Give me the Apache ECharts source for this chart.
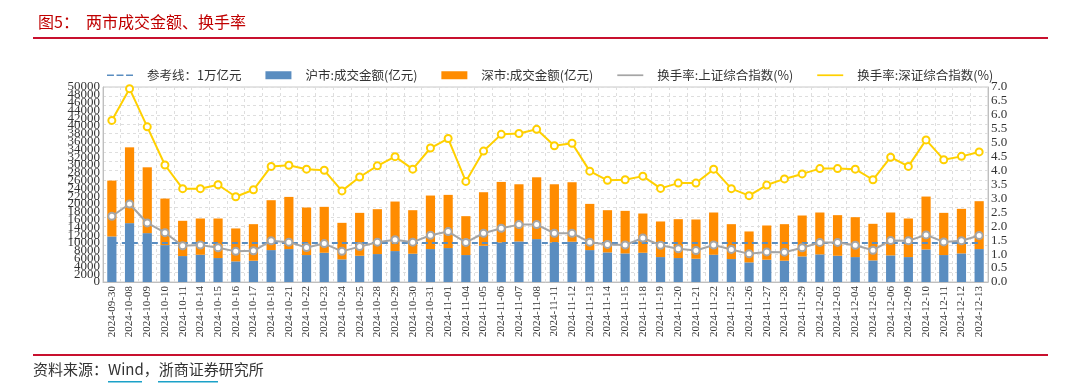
<!DOCTYPE html>
<html>
<head>
<meta charset="utf-8">
<script src="https://cdn.jsdelivr.net/npm/echarts@6/dist/echarts.min.js"></script>
<style>html,body{margin:0;padding:0;background:#fff;}#c{width:1080px;height:390px;}</style>
</head>
<body>
<div id="c"></div>
<script>
const dates = ['2024-09-30','2024-10-08','2024-10-09','2024-10-10','2024-10-11','2024-10-14','2024-10-15','2024-10-16','2024-10-17','2024-10-18','2024-10-21','2024-10-22','2024-10-23','2024-10-24','2024-10-25','2024-10-28','2024-10-29','2024-10-30','2024-10-31','2024-11-01','2024-11-04','2024-11-05','2024-11-06','2024-11-07','2024-11-08','2024-11-11','2024-11-12','2024-11-13','2024-11-14','2024-11-15','2024-11-18','2024-11-19','2024-11-20','2024-11-21','2024-11-22','2024-11-25','2024-11-26','2024-11-27','2024-11-28','2024-11-29','2024-12-02','2024-12-03','2024-12-04','2024-12-05','2024-12-06','2024-12-09','2024-12-10','2024-12-11','2024-12-12','2024-12-13'];
const shAmount = [11680,15090,12530,9460,6650,6990,6140,5290,5460,8180,8440,6910,7500,5800,6730,7160,7930,7250,8440,8700,6910,9290,10140,10400,11000,10140,10320,8180,7590,7330,7500,6390,6140,5970,6990,5880,5030,5710,5460,6560,7080,6730,6390,5540,6820,6390,8350,6910,7330,8440];
const szAmount = [14320,19440,16880,11940,9040,9290,10140,8440,9370,12790,13380,12190,11770,9370,11000,11510,12700,11160,13730,13640,9970,13730,15520,14660,15850,14920,15260,11850,10820,10910,10060,9130,9970,10060,10830,8950,7930,8780,9370,10490,10740,10410,10230,9380,11000,9890,13560,10820,11430,12280];
const refLine = [10000,10000,10000,10000,10000,10000,10000,10000,10000,10000,10000,10000,10000,10000,10000,10000,10000,10000,10000,10000,10000,10000,10000,10000,10000,10000,10000,10000,10000,10000,10000,10000,10000,10000,10000,10000,10000,10000,10000,10000,10000,10000,10000,10000,10000,10000,10000,10000,10000,10000];
const shTurnover = [2.36,2.80,2.12,1.77,1.30,1.33,1.23,1.10,1.12,1.48,1.43,1.24,1.38,1.10,1.27,1.43,1.52,1.43,1.68,1.81,1.42,1.75,1.93,2.06,2.06,1.75,1.75,1.43,1.35,1.33,1.58,1.32,1.19,1.13,1.33,1.17,1.01,1.08,1.07,1.23,1.42,1.42,1.32,1.14,1.49,1.48,1.69,1.44,1.48,1.67];
const szTurnover = [5.80,6.94,5.57,4.20,3.35,3.35,3.49,3.06,3.31,4.15,4.19,4.05,4.01,3.27,3.77,4.17,4.50,4.05,4.81,5.15,3.61,4.70,5.30,5.33,5.48,4.89,4.98,3.98,3.65,3.67,3.80,3.36,3.55,3.55,4.05,3.35,3.10,3.48,3.70,3.88,4.07,4.07,4.05,3.67,4.48,4.15,5.10,4.39,4.51,4.67];
const seriesNames = ['参考线：1万亿元','沪市:成交金额(亿元)','深市:成交金额(亿元)','换手率:上证综合指数(%)','换手率:深证综合指数(%)'];

const chart = echarts.init(document.getElementById('c'), null, {renderer:'canvas'});
const serif = '"Liberation Serif","DejaVu Serif",serif';
const cjk = '"Noto Sans CJK SC","Noto Sans",sans-serif';
const dashIcon = 'path://M0 0H8V2H0Z M11 0H19V2H11Z M22 0H30V2H22Z';
const lineIcon = 'path://M0 0H30V2H0Z';
const leftLabel = {fontSize:13, color:'#333', fontFamily:serif, margin:3, hideOverlap:false, formatter:v=>String(v)};
const option = {
  animation:false,
  backgroundColor:'#fff',
  title:{text:'图5：  两市成交金额、换手率', left:33, top:9, textStyle:{color:'#C00000', fontSize:16, fontWeight:'normal', fontFamily:cjk}},
  legend:{
    top:64, left:102, itemGap:24, itemWidth:26, itemHeight:8,
    textStyle:{fontSize:12.5, color:'#333', fontFamily:cjk, padding:[0,0,0,9]},
    data:[
      {name:seriesNames[0], icon:dashIcon},
      {name:seriesNames[1], icon:'rect'},
      {name:seriesNames[2], icon:'rect'},
      {name:seriesNames[3], icon:lineIcon},
      {name:seriesNames[4], icon:lineIcon}
    ]
  },
  grid:{left:103, right:92, top:87, bottom:108, show:true, borderColor:'#c8c8c8', borderWidth:1},
  xAxis:{
    type:'category', data:dates, boundaryGap:true,
    axisLine:{lineStyle:{color:'#bfbfbf'}}, axisTick:{show:false},
    axisLabel:{interval:0, rotate:90, fontSize:11, color:'#333', fontFamily:serif, margin:4},
    splitLine:{show:true, interval:0, lineStyle:{color:'#dedede', type:[3,3]}}
  },
  yAxis:[
    {type:'value', min:0, max:50000, interval:2000, position:'left',
     axisLine:{show:true, lineStyle:{color:'#bfbfbf'}}, axisTick:{show:false},
     axisLabel:Object.assign({}, leftLabel, {showMinLabel:false, showMaxLabel:false}),
     splitLine:{show:false}},
    {type:'value', min:0, max:7, interval:0.5, position:'right',
     axisLine:{show:true, lineStyle:{color:'#bfbfbf'}}, axisTick:{show:false},
     axisLabel:{fontSize:13, color:'#333', fontFamily:serif, margin:3, hideOverlap:false, showMinLabel:true, showMaxLabel:true, formatter:v=>v.toFixed(1)},
     splitLine:{show:false}},
    {type:'value', min:0, max:21, interval:1, show:true, position:'left',
     axisLine:{show:false}, axisTick:{show:false}, axisLabel:{show:false},
     splitLine:{show:true, lineStyle:{color:'#dedede', type:[3,3]}}},
    {type:'value', min:0, max:50000, interval:50000, position:'left',
     axisLine:{show:false}, axisTick:{show:false},
     axisLabel:Object.assign({}, leftLabel, {showMinLabel:true, showMaxLabel:true}),
     splitLine:{show:false}}
  ],
  series:[
    {name:seriesNames[1], type:'bar', stack:'amt', data:shAmount, barWidth:'52%', itemStyle:{color:'#5A8DC0'}, z:2},
    {name:seriesNames[2], type:'bar', stack:'amt', data:szAmount, barWidth:'52%', itemStyle:{color:'#FF8C00'}, z:2},
    {name:seriesNames[0], type:'line', data:refLine, symbol:'none', lineStyle:{color:'#5A8DC0', width:2, type:[6,4]}, itemStyle:{color:'#5A8DC0'}, z:3},
    {name:seriesNames[3], type:'line', yAxisIndex:1, data:shTurnover, symbol:'emptyCircle', symbolSize:7, lineStyle:{color:'#A5A5A5', width:2}, itemStyle:{color:'#A5A5A5', borderWidth:1.5}, z:4},
    {name:seriesNames[4], type:'line', yAxisIndex:1, data:szTurnover, symbol:'emptyCircle', symbolSize:7, lineStyle:{color:'#FFD000', width:2}, itemStyle:{color:'#FFD000', borderWidth:1.5}, z:5}
  ],
  graphic:[
    {type:'rect', shape:{x:33, y:37, width:1015, height:2}, style:{fill:'#C8102E'}},
    {type:'rect', shape:{x:33, y:354, width:1015, height:2}, style:{fill:'#C8102E'}},
    {type:'text', left:33, top:362, style:{text:'资料来源：Wind，浙商证券研究所', fontSize:15, fill:'#333', fontFamily:cjk}},
    {type:'rect', shape:{x:108, y:381, width:34, height:1.5}, style:{fill:'#1BA1C8'}},
    {type:'rect', shape:{x:158, y:381, width:60, height:1.5}, style:{fill:'#1BA1C8'}}
  ]
};
chart.setOption(option);
</script>
</body>
</html>
